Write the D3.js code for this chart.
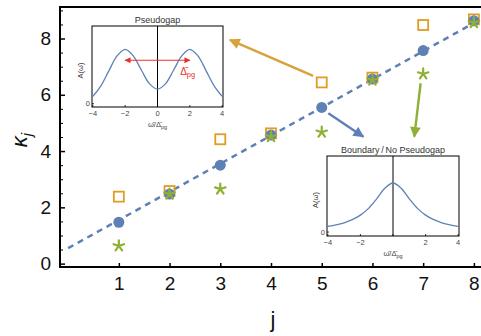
<!DOCTYPE html>
<html>
<head>
<meta charset="utf-8">
<script src="https://cdn.jsdelivr.net/npm/d3@7"></script>
<style>
  body { margin: 0; background: #fff; }
  svg { display: block; font-family: "Liberation Sans", Arial, sans-serif; }
</style>
</head>
<body>
<div id="chart"></div>
<script>
// données
const jValues = [1, 2, 3, 4, 5, 6, 7, 8];
const kappaCircle = [1.47, 2.47, 3.50, 4.57, 5.55, 6.56, 7.57, 8.63];
const kappaSquare = [2.38, 2.58, 4.42, 4.63, 6.44, 6.61, 8.48, 8.68];
const kappaStar = [0.63, 2.47, 2.65, 4.51, 4.67, 6.52, 6.74, 8.56];
const fitJ = [0, 8.14];
const fitK = [0.55, 8.69];
const xTicks = [1, 2, 3, 4, 5, 6, 7, 8];
const yTicks = [0, 2, 4, 6, 8];

// courbes des encarts
const omega = [-4, -3.5, -3, -2.5, -2, -1.5, -1, -0.5, 0, 0.5, 1, 1.5, 2, 2.5, 3, 3.5, 4];
const specPseudogap = [0.135, 0.33, 0.61, 0.88, 1.0, 0.88, 0.62, 0.37, 0.27, 0.37, 0.62, 0.88, 1.0, 0.88, 0.61, 0.33, 0.135];
const specBoundary = [0.116, 0.146, 0.189, 0.252, 0.345, 0.483, 0.678, 0.894, 1.0, 0.894, 0.678, 0.483, 0.345, 0.252, 0.189, 0.146, 0.116];
const insetTicks = [-4, -2, 0, 2, 4];

// flèches (départ / arrivée en coordonnées j, kappa)
const arrows = [
  { from: [4.83, 6.67], to: [3.19, 7.95], color: '#D9A13C' },
  { from: [5.13, 5.34], to: [5.82, 4.51], color: '#5E7FB8' },
  { from: [6.95, 6.41], to: [6.825, 4.51], color: '#8FAF3A' }
];

const W = 481, H = 336;
const blue = '#5E81B5', orange = '#E19C24', green = '#8FB032';

const svg = d3.select('#chart').append('svg')
  .attr('width', W).attr('height', H);

const x = d3.scaleLinear().domain([-0.16, 8.14]).range([60, 481]);
const y = d3.scaleLinear().domain([-0.12, 9.12]).range([267, 7]);

// cadre
svg.append('line').attr('x1', 60).attr('x2', 481).attr('y1', 7).attr('y2', 7)
  .attr('stroke', '#000').attr('stroke-width', 2);

const xAxis = svg.append('g').attr('transform', `translate(0,267)`)
  .call(d3.axisBottom(x).tickValues(xTicks).tickSize(-4).tickPadding(10).tickFormat(d3.format('d')));
const yAxis = svg.append('g').attr('transform', `translate(60,0)`)
  .call(d3.axisLeft(y).tickValues(yTicks).tickSize(-5).tickPadding(9).tickFormat(d3.format('d')));
// graduations mineures
svg.append('g').attr('transform', `translate(60,0)`)
  .call(d3.axisLeft(y).tickValues(d3.range(0, 9.01, 0.5).filter(v => v % 2 !== 0)).tickSize(-3).tickFormat(''))
  .select('.domain').remove();

[xAxis, yAxis].forEach(a => {
  a.select('.domain').remove();
  a.selectAll('.tick line').attr('stroke-width', 1.5);
  a.selectAll('.tick text').attr('font-size', 19).attr('fill', '#111');
});
svg.append('line').attr('x1', 60).attr('x2', 481).attr('y1', 267).attr('y2', 267)
  .attr('stroke', '#000').attr('stroke-width', 2);
svg.append('line').attr('x1', 60).attr('x2', 60).attr('y1', 6).attr('y2', 268)
  .attr('stroke', '#000').attr('stroke-width', 2);

// titres des axes
svg.append('text').attr('x', 273).attr('y', 327).attr('text-anchor', 'middle')
  .attr('font-size', 22).attr('fill', '#111').text('j');
svg.append('text').attr('transform', 'translate(27,140) rotate(-90)')
  .attr('text-anchor', 'middle').attr('font-size', 22).attr('fill', '#111')
  .call(t => {
    t.append('tspan').attr('font-style', 'italic').text('κ');
    t.append('tspan').attr('font-style', 'italic').attr('font-size', 15).attr('dy', 5).text('j');
  });

// droite d'ajustement
svg.append('path')
  .datum(fitJ.map((d, i) => [d, fitK[i]]))
  .attr('d', d3.line().x(d => x(d[0])).y(d => y(d[1])))
  .attr('fill', 'none').attr('stroke', blue).attr('stroke-width', 2.5)
  .attr('stroke-dasharray', '6,5');

// carrés
svg.selectAll('.sq').data(jValues).enter().append('rect')
  .attr('class', 'sq')
  .attr('x', (d, i) => x(d) - 5).attr('y', (d, i) => y(kappaSquare[i]) - 5)
  .attr('width', 10).attr('height', 10)
  .attr('fill', 'none').attr('stroke', orange).attr('stroke-width', 1.8);

// cercles
svg.selectAll('.dot').data(jValues).enter().append('circle')
  .attr('class', 'dot')
  .attr('cx', d => x(d)).attr('cy', (d, i) => y(kappaCircle[i]))
  .attr('r', 5.5).attr('fill', blue);

// étoiles
const starPath = d3.range(5).map(k => {
  const a = -Math.PI / 2 + k * 2 * Math.PI / 5;
  return `M0,0L${(5.5 * Math.cos(a)).toFixed(2)},${(5.5 * Math.sin(a)).toFixed(2)}`;
}).join('');
svg.selectAll('.star').data(jValues).enter().append('path')
  .attr('class', 'star')
  .attr('transform', (d, i) => `translate(${x(d)},${y(kappaStar[i])})`)
  .attr('d', starPath)
  .attr('stroke', green).attr('stroke-width', 2.2).attr('stroke-linecap', 'round').attr('fill', 'none');

// flèches
const defs = svg.append('defs');
arrows.forEach((a, i) => {
  defs.append('marker').attr('id', 'head' + i)
    .attr('viewBox', '0 0 10 10').attr('refX', 9).attr('refY', 5)
    .attr('markerWidth', 5).attr('markerHeight', 4.5).attr('markerUnits', 'strokeWidth')
    .attr('orient', 'auto')
    .append('path').attr('d', 'M0,0L10,5L0,10Z').attr('fill', a.color);
  svg.append('line')
    .attr('x1', x(a.from[0])).attr('y1', y(a.from[1]))
    .attr('x2', x(a.to[0])).attr('y2', y(a.to[1]))
    .attr('stroke', a.color).attr('stroke-width', 2.4)
    .attr('marker-end', `url(#head${i})`);
});

// encarts
function drawInset(box, yDomain, values, title, showZero, arrowY) {
  const g = svg.append('g');
  const ix = d3.scaleLinear().domain([-4.05, 4.05]).range([box.x0, box.x1]);
  const iy = d3.scaleLinear().domain(yDomain).range([box.y1, box.y0]);

  g.append('rect').attr('x', box.x0).attr('y', box.y0)
    .attr('width', box.x1 - box.x0).attr('height', box.y1 - box.y0)
    .attr('fill', '#fff').attr('stroke', '#000').attr('stroke-width', 1);

  g.append('line').attr('x1', ix(0)).attr('x2', ix(0)).attr('y1', box.y0).attr('y2', box.y1)
    .attr('stroke', '#000').attr('stroke-width', 1);

  g.append('path')
    .datum(omega.map((d, i) => [d, values[i]]))
    .attr('d', d3.line().x(d => ix(d[0])).y(d => iy(d[1])).curve(d3.curveCatmullRom))
    .attr('fill', 'none').attr('stroke', blue).attr('stroke-width', 1.3);

  const tv = showZero ? insetTicks : insetTicks.filter(d => d !== 0);
  insetTicks.forEach(t => {
    g.append('line').attr('x1', ix(t)).attr('x2', ix(t)).attr('y1', box.y1).attr('y2', box.y1 - 2)
      .attr('stroke', '#000').attr('stroke-width', 0.8);
  });
  g.selectAll('.itl').data(tv).enter().append('text')
    .attr('x', d => ix(d)).attr('y', box.y1 + 9)
    .attr('text-anchor', 'middle').attr('font-size', 7.5).attr('fill', '#444')
    .text(d => d < 0 ? '\u2212' + Math.abs(d) : d);
  g.append('line').attr('x1', box.x0).attr('x2', box.x0 + 2).attr('y1', iy(0)).attr('y2', iy(0))
    .attr('stroke', '#000').attr('stroke-width', 0.8);
  g.append('text').attr('x', box.x0 - 2).attr('y', iy(0) + 2.5)
    .attr('text-anchor', 'end').attr('font-size', 7.5).attr('fill', '#444').text('0');

  g.append('text').attr('x', (box.x0 + box.x1) / 2).attr('y', box.y0 - 3)
    .attr('text-anchor', 'middle').attr('font-size', 9).attr('fill', '#333').text(title);

  g.append('text').attr('x', ix(0)).attr('y', box.y1 + 20)
    .attr('text-anchor', 'middle').attr('font-size', 7.5).attr('fill', '#444')
    .call(t => {
      t.append('tspan').text('\u03C9\u0304/\u0394\u0304');
      t.append('tspan').attr('font-size', 5.5).attr('dy', 2).text('pg');
    });
  g.append('text')
    .attr('transform', `translate(${box.x0 - 9},${(box.y0 + box.y1) / 2 + 4}) rotate(-90)`)
    .attr('text-anchor', 'middle').attr('font-size', 7.5).attr('fill', '#444')
    .text('A(\u03C9\u0304)');

  if (arrowY !== undefined) {
    const red = '#E8302A';
    defs.append('marker').attr('id', 'red').attr('viewBox', '0 0 10 10')
      .attr('refX', 9).attr('refY', 5).attr('markerWidth', 7).attr('markerHeight', 6)
      .attr('markerUnits', 'userSpaceOnUse').attr('orient', 'auto-start-reverse')
      .append('path').attr('d', 'M0,0L10,5L0,10Z').attr('fill', red);
    g.append('line').attr('x1', ix(-2)).attr('x2', ix(2)).attr('y1', iy(arrowY)).attr('y2', iy(arrowY))
      .attr('stroke', red).attr('stroke-width', 1.2)
      .attr('marker-start', 'url(#red)').attr('marker-end', 'url(#red)');
    g.append('text').attr('x', ix(1.4)).attr('y', iy(arrowY) + 15)
      .attr('font-size', 10).attr('fill', red)
      .call(t => {
        t.append('tspan').text('\u0394\u0304');
        t.append('tspan').attr('font-size', 7.5).attr('dy', 2).text('pg');
      });
  }
}

drawInset({ x0: 92, x1: 223, y0: 26, y1: 107 }, [-0.06, 1.43], specPseudogap, 'Pseudogap', true, 0.8);
drawInset({ x0: 327, x1: 459, y0: 156, y1: 236 }, [-0.08, 1.55], specBoundary, 'Boundary\u2009/\u2009No Pseudogap', false);
</script>
</body>
</html>
